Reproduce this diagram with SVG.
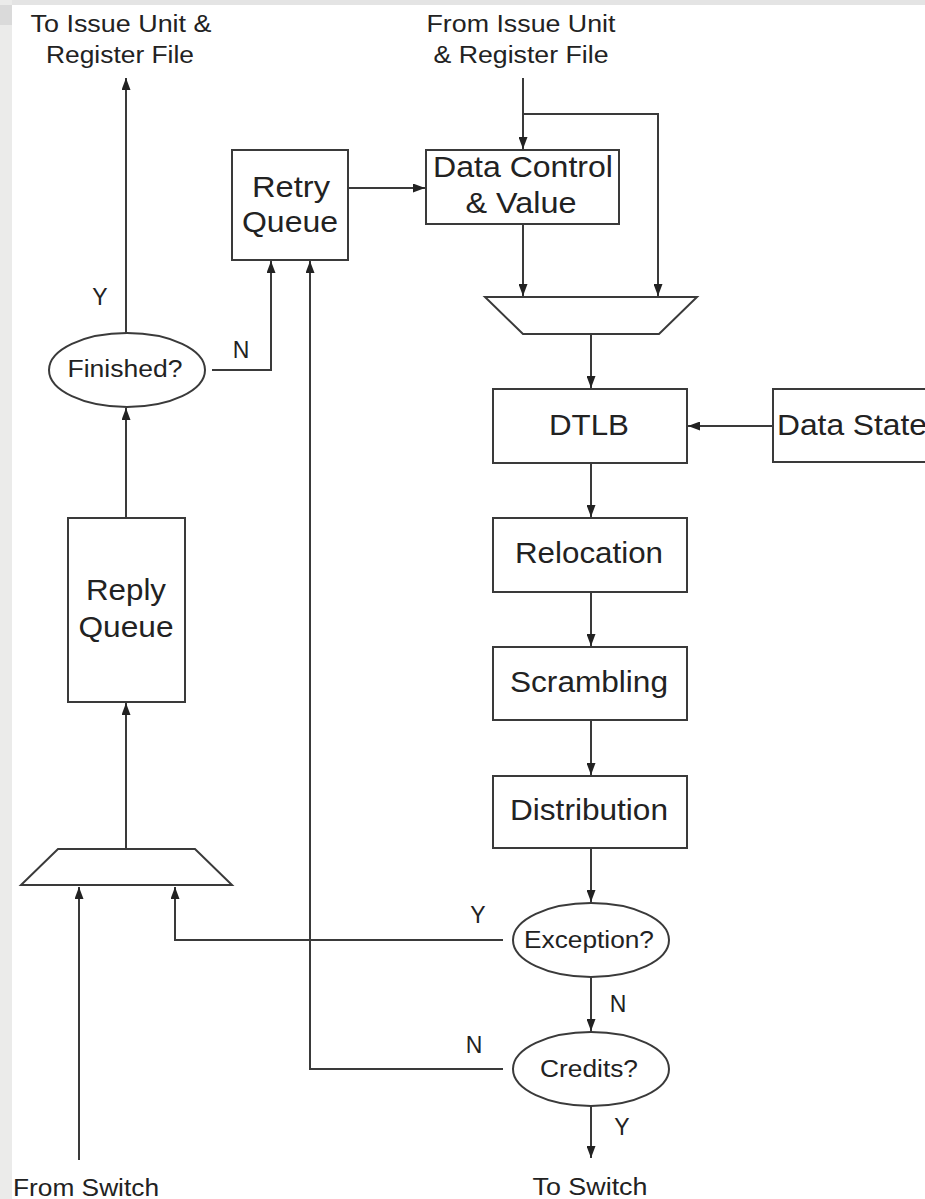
<svg xmlns="http://www.w3.org/2000/svg" width="925" height="1199" viewBox="0 0 925 1199">
<style>
.box{fill:#fff;stroke:#3a3a3a;stroke-width:2}
.ln{fill:none;stroke:#3a3a3a;stroke-width:2}
.t{font-family:"Liberation Sans",Arial,sans-serif;fill:#222;text-anchor:middle}
.s{font-size:23px}
.b{font-size:29px}
</style>
<defs>
<marker id="ah" markerUnits="userSpaceOnUse" markerWidth="12" markerHeight="9" refX="12" refY="4.5" orient="auto">
<path d="M0,0 L12,4.5 L0,9 z" fill="#222"/>
</marker>
</defs>
<rect x="0" y="0" width="925" height="1199" fill="#fff"/>
<rect x="0" y="0" width="925" height="5" fill="#e4e4e4"/>
<rect x="0" y="0" width="12" height="1199" fill="#ebebea"/>
<rect x="0" y="5" width="12" height="20" fill="#dadada"/>

<g id="connectors">
<path class="ln" d="M126,333 V78" marker-end="url(#ah)"/>
<path class="ln" d="M212,370 H271 V261" marker-end="url(#ah)"/>
<path class="ln" d="M126,518 V408" marker-end="url(#ah)"/>
<path class="ln" d="M126,849 V703" marker-end="url(#ah)"/>
<path class="ln" d="M79,1160 V887" marker-end="url(#ah)"/>
<path class="ln" d="M503,940 H175 V887" marker-end="url(#ah)"/>
<path class="ln" d="M503,1069 H310 V261" marker-end="url(#ah)"/>
<path class="ln" d="M348,188 H425" marker-end="url(#ah)"/>
<path class="ln" d="M523,78 V149" marker-end="url(#ah)"/>
<path class="ln" d="M523,114 H658 V296" marker-end="url(#ah)"/>
<path class="ln" d="M523,224 V296" marker-end="url(#ah)"/>
<path class="ln" d="M591,334 V388" marker-end="url(#ah)"/>
<path class="ln" d="M591,463 V517" marker-end="url(#ah)"/>
<path class="ln" d="M591,592 V646" marker-end="url(#ah)"/>
<path class="ln" d="M591,720 V775" marker-end="url(#ah)"/>
<path class="ln" d="M591,848 V902" marker-end="url(#ah)"/>
<path class="ln" d="M591,977 V1031" marker-end="url(#ah)"/>
<path class="ln" d="M591,1106 V1158" marker-end="url(#ah)"/>
<path class="ln" d="M773,426 H688" marker-end="url(#ah)"/>
</g>

<g id="labels">
<text class="t s" x="121" y="32" textLength="181" lengthAdjust="spacingAndGlyphs">To Issue Unit &amp;</text>
<text class="t s" x="120" y="63" textLength="148" lengthAdjust="spacingAndGlyphs">Register File</text>
<text class="t s" x="521" y="32" textLength="189" lengthAdjust="spacingAndGlyphs">From Issue Unit</text>
<text class="t s" x="521" y="63" textLength="175" lengthAdjust="spacingAndGlyphs">&amp; Register File</text>
<text class="t s" x="86" y="1196" textLength="146" lengthAdjust="spacingAndGlyphs">From Switch</text>
<text class="t s" x="590" y="1195" textLength="115" lengthAdjust="spacingAndGlyphs">To Switch</text>
<text class="t s" x="100" y="305">Y</text>
<text class="t s" x="241" y="358">N</text>
<text class="t s" x="478" y="923">Y</text>
<text class="t s" x="618" y="1012">N</text>
<text class="t s" x="474" y="1053">N</text>
<text class="t s" x="622" y="1135">Y</text>
</g>

<g id="retry-queue">
<rect class="box" x="232" y="150" width="116" height="110"/>
<text class="t b" x="291" y="197" textLength="78" lengthAdjust="spacingAndGlyphs">Retry</text>
<text class="t b" x="290" y="232" textLength="96" lengthAdjust="spacingAndGlyphs">Queue</text>
</g>

<g id="data-control">
<rect class="box" x="426" y="150" width="193" height="74"/>
<text class="t b" x="523" y="177" textLength="180" lengthAdjust="spacingAndGlyphs">Data Control</text>
<text class="t b" x="521" y="213" textLength="111" lengthAdjust="spacingAndGlyphs">&amp; Value</text>
</g>

<g id="mux-top">
<path class="box" d="M485,297 H697 L659,334 H523 Z"/>
</g>

<g id="dtlb">
<rect class="box" x="493" y="389" width="194" height="74"/>
<text class="t b" x="589" y="435" textLength="80" lengthAdjust="spacingAndGlyphs">DTLB</text>
</g>

<g id="data-state">
<rect class="box" x="773" y="389" width="170" height="73"/>
<text class="t b" x="777" y="435" style="text-anchor:start" textLength="150" lengthAdjust="spacingAndGlyphs">Data State</text>
</g>

<g id="relocation">
<rect class="box" x="493" y="518" width="194" height="74"/>
<text class="t b" x="589" y="563" textLength="148" lengthAdjust="spacingAndGlyphs">Relocation</text>
</g>

<g id="scrambling">
<rect class="box" x="493" y="647" width="194" height="73"/>
<text class="t b" x="589" y="692" textLength="158" lengthAdjust="spacingAndGlyphs">Scrambling</text>
</g>

<g id="distribution">
<rect class="box" x="493" y="776" width="194" height="72"/>
<text class="t b" x="589" y="820" textLength="158" lengthAdjust="spacingAndGlyphs">Distribution</text>
</g>

<g id="exception">
<ellipse class="box" cx="591" cy="940" rx="78" ry="37"/>
<text class="t s" x="589" y="948" textLength="130" lengthAdjust="spacingAndGlyphs">Exception?</text>
</g>

<g id="credits">
<ellipse class="box" cx="591" cy="1069" rx="78" ry="37"/>
<text class="t s" x="589" y="1077" textLength="98" lengthAdjust="spacingAndGlyphs">Credits?</text>
</g>

<g id="finished">
<ellipse class="box" cx="127" cy="370" rx="78" ry="37"/>
<text class="t s" x="125" y="377" textLength="115" lengthAdjust="spacingAndGlyphs">Finished?</text>
</g>

<g id="reply-queue">
<rect class="box" x="68" y="518" width="117" height="184"/>
<text class="t b" x="126" y="600" textLength="80" lengthAdjust="spacingAndGlyphs">Reply</text>
<text class="t b" x="126" y="637" textLength="95" lengthAdjust="spacingAndGlyphs">Queue</text>
</g>

<g id="mux-bottom">
<path class="box" d="M58,849 H195 L232,885 H21 Z"/>
</g>
</svg>
